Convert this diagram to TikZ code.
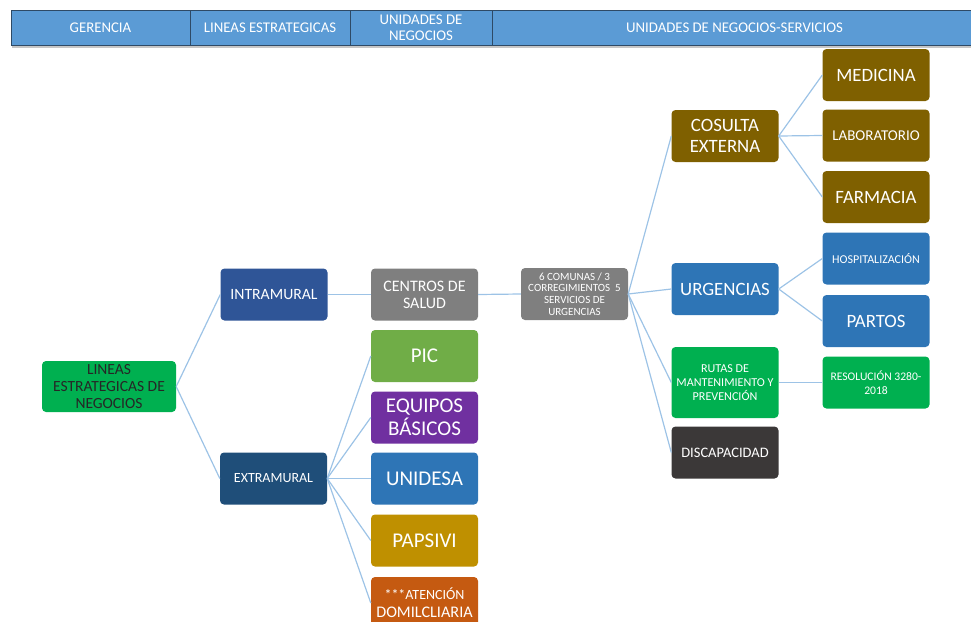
\documentclass[tikz,border=0pt]{standalone}
\usepackage{fontspec}
\setmainfont{Carlito}
\usepackage{xcolor}
\usepackage{tikz}

% Colores
\definecolor{cabecera}{HTML}{5B9BD5}
\definecolor{cabborde}{HTML}{2E4A66}
\definecolor{enlaceazul}{HTML}{9DC3E6}
\definecolor{verdeest}{HTML}{00B050}
\definecolor{azulintra}{HTML}{2F5597}
\definecolor{azulextra}{HTML}{1F4E79}
\definecolor{grismedio}{HTML}{7F7F7F}
\definecolor{verdepic}{HTML}{70AD47}
\definecolor{morado}{HTML}{7030A0}
\definecolor{azulmedio}{HTML}{2E75B6}
\definecolor{dorado}{HTML}{BF9000}
\definecolor{naranja}{HTML}{C55A11}
\definecolor{cafe}{HTML}{7F6000}
\definecolor{grisoscuro}{HTML}{3B3838}

% Tamanos de letra
\newcommand{\letraXL}{\fontsize{21}{23}\selectfont}
\newcommand{\letraL}{\fontsize{18.8}{21}\selectfont}
\newcommand{\letraM}{\fontsize{15}{17}\selectfont}
\newcommand{\letraS}{\fontsize{12}{14}\selectfont}
\newcommand{\letraXS}{\fontsize{11}{11.7}\selectfont}

\begin{document}
\begin{tikzpicture}[x=1pt,y=-1pt,
	caja/.style={rectangle, rounded corners=4pt, minimum width=107pt, minimum height=52pt, inner sep=1pt, align=center, text=white},
	enlace/.style={draw=enlaceazul, line width=1.2pt},
	celda/.style={rectangle, draw=cabborde, fill=cabecera, line width=1pt, minimum height=35pt, inner sep=0pt, align=center, text=white, font=\fontsize{14.8}{16}\selectfont}]
	\useasboundingbox (0,0) rectangle (971,621);
	\clip (0,0) rectangle (971,621);
	
	% Encabezado
	\fill[gray!45] (12,14) rectangle (975,48);
	\node[celda, minimum width=179pt] (gerencia) at (100.5,27.5) {GERENCIA};
	\node[celda, minimum width=160pt] (lineas) at (270,27.5) {LINEAS ESTRATEGICAS};
	\node[celda, minimum width=142pt] (unidades) at (421,27.5) {UNIDADES DE\\NEGOCIOS};
	\node[celda, minimum width=485pt] (servicios) at (734.5,27.5) {UNIDADES DE NEGOCIOS-SERVICIOS};
	
	% Gerencia y lineas estrategicas
	\node[caja, fill=verdeest, text=black!85, minimum width=134pt, minimum height=51pt, font=\fontsize{15.5}{17}\selectfont] (estrategicas) at (109,386.5) {LINEAS\\ESTRATEGICAS DE\\NEGOCIOS};
	\node[caja, fill=azulintra, font=\fontsize{15.7}{17}\selectfont] (intramural) at (274,294.5) {INTRAMURAL};
	\node[caja, fill=azulextra, font=\fontsize{14}{16}\selectfont] (extramural) at (273.5,478.5) {EXTRAMURAL};
	
	% Unidades de negocios
	\node[caja, fill=grismedio, font=\fontsize{16}{17}\selectfont] (centros) at (424.5,294.5) {CENTROS DE\\SALUD};
	\node[caja, fill=verdepic, font=\letraXL] (pic) at (424.5,356) {PIC};
	\node[caja, fill=morado, font=\letraXL] (equipos) at (424.5,417.5) {EQUIPOS\\BÁSICOS};
	\node[caja, fill=azulmedio, font=\letraXL] (unidesa) at (424.5,478.5) {UNIDESA};
	\node[caja, fill=dorado, font=\letraXL] (papsivi) at (424.5,540.5) {PAPSIVI};
	\node[caja, fill=naranja, font=\fontsize{16.2}{18}\selectfont] (atencion) at (424.5,603) {{\fontsize{14}{16}\selectfont ***ATENCIÓN}\\DOMILCLIARIA};
	
	% Unidades de negocios - servicios
	\node[caja, fill=grismedio, font=\letraXS] (comunas) at (574.5,294) {6 COMUNAS / 3\\CORREGIMIENTOS~~5\\SERVICIOS DE\\URGENCIAS};
	\node[caja, fill=cafe, font=\letraL] (consulta) at (725,136) {COSULTA\\EXTERNA};
	\node[caja, fill=azulmedio, font=\letraL] (urgencias) at (725,289) {URGENCIAS};
	\node[caja, fill=verdeest, minimum height=71pt, font=\fontsize{12.1}{14}\selectfont] (rutas) at (725,382.5) {RUTAS DE\\MANTENIMIENTO Y\\PREVENCIÓN};
	\node[caja, fill=grisoscuro, font=\fontsize{14.5}{16}\selectfont] (discapacidad) at (725,452.5) {DISCAPACIDAD};
	
	\node[caja, fill=cafe, font=\letraL] (medicina) at (876,75) {MEDICINA};
	\node[caja, fill=cafe, font=\letraM] (laboratorio) at (876,135.5) {LABORATORIO};
	\node[caja, fill=cafe, font=\letraL] (farmacia) at (876,197) {FARMACIA};
	\node[caja, fill=azulmedio, font=\letraS] (hospitalizacion) at (876,258.5) {HOSPITALIZACIÓN};
	\node[caja, fill=azulmedio, font=\letraL] (partos) at (876,321) {PARTOS};
	\node[caja, fill=verdeest, font=\fontsize{11.6}{14}\selectfont] (resolucion) at (876,382.5) {RESOLUCIÓN 3280-\\2018};
	
	% Enlaces
	\draw[enlace] (estrategicas.east) -- (intramural.west);
	\draw[enlace] (estrategicas.east) -- (extramural.west);
	\draw[enlace] (intramural.east) -- (centros.west);
	\draw[enlace] (extramural.east) -- (pic.west);
	\draw[enlace] (extramural.east) -- (equipos.west);
	\draw[enlace] (extramural.east) -- (unidesa.west);
	\draw[enlace] (extramural.east) -- (papsivi.west);
	\draw[enlace] (extramural.east) -- (atencion.west);
	\draw[enlace] (centros.east) -- (comunas.west);
	\draw[enlace] (comunas.east) -- (consulta.west);
	\draw[enlace] (comunas.east) -- (urgencias.west);
	\draw[enlace] (comunas.east) -- (rutas.west);
	\draw[enlace] (comunas.east) -- (discapacidad.west);
	\draw[enlace] (consulta.east) -- (medicina.west);
	\draw[enlace] (consulta.east) -- (laboratorio.west);
	\draw[enlace] (consulta.east) -- (farmacia.west);
	\draw[enlace] (urgencias.east) -- (hospitalizacion.west);
	\draw[enlace] (urgencias.east) -- (partos.west);
	\draw[enlace] (rutas.east) -- (resolucion.west);
\end{tikzpicture}
\end{document}
